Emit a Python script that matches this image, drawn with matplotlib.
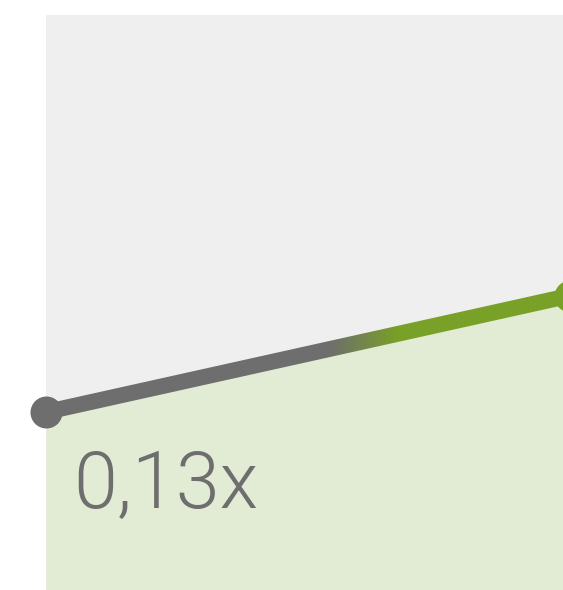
import numpy as np
import matplotlib
matplotlib.use("Agg")
import matplotlib.pyplot as plt
from matplotlib.patches import Polygon
from matplotlib.colors import to_rgb

# data
x_pos = [0.0, 1.0]
values = [0.13, 0.215]
label_text = "0,13x"

W, H = 563, 590
fig = plt.figure(figsize=(W / 100, H / 100), dpi=100)
fig.patch.set_facecolor("white")

left_px, top_px = 46, 15
ax = fig.add_axes([left_px / W, 0, (W - left_px) / W, (H - top_px) / H])
ax.set_facecolor("#EFEFEF")
for s in ax.spines.values():
    s.set_visible(False)
ax.set_xticks([])
ax.set_yticks([])
ax.set_ylim(0, 0.42)
ax.set_xlim(0, 0.987)

gray = np.array(to_rgb("#6E6E6E"))
green = np.array(to_rgb("#79A127"))

# fill under line
ax.fill_between(x_pos, values, 0, color="#E2EBD3", lw=0, zorder=1, clip_on=False)

# thick line outline polygon (computed in display space from the data points)
fig.canvas.draw()
p0 = ax.transData.transform((x_pos[0], values[0]))
p1 = ax.transData.transform((x_pos[1], values[1]))
d = (p1 - p0) / np.linalg.norm(p1 - p0)
nrm = np.array([-d[1], d[0]])
hw = 7.9
poly_disp = np.array([p0 + nrm * hw, p1 + nrm * hw, p1 - nrm * hw, p0 - nrm * hw])
poly_data = ax.transData.inverted().transform(poly_disp)
clip_poly = Polygon(poly_data, closed=True, transform=ax.transData, facecolor="none", edgecolor="none")
ax.add_patch(clip_poly)

# horizontal gradient image
a, b = 0.54, 0.675
t = np.linspace(0, 1, 600)
f = np.clip((t - a) / (b - a), 0, 1)
cols = gray[None, :] * (1 - f[:, None]) + green[None, :] * f[:, None]
img = np.tile(cols[None, :, :], (2, 1, 1))
ymin, ymax = min(values) - 0.05, max(values) + 0.05
im = ax.imshow(img, extent=[x_pos[0], x_pos[1], ymin, ymax], aspect="auto",
               interpolation="bilinear", zorder=3, origin="lower")
im.set_clip_path(clip_poly)
ax.set_xlim(0, 0.987)
ax.set_ylim(0, 0.42)

msize = (2 * 16 * 72 / 100) ** 2
ax.scatter([x_pos[0]], [values[0]], s=msize, color=gray, zorder=4, clip_on=False, linewidths=0)
ax.scatter([x_pos[1]], [values[1]], s=msize, color=green, zorder=4, clip_on=False, linewidths=0)

ax.text(0.052, 0.1426, label_text, transform=ax.transAxes, ha="left", va="baseline",
        fontsize=57, color="#6E6E6E", family="Roboto", fontweight=300, zorder=5)

fig.savefig("out.png", dpi=100, facecolor="white")
